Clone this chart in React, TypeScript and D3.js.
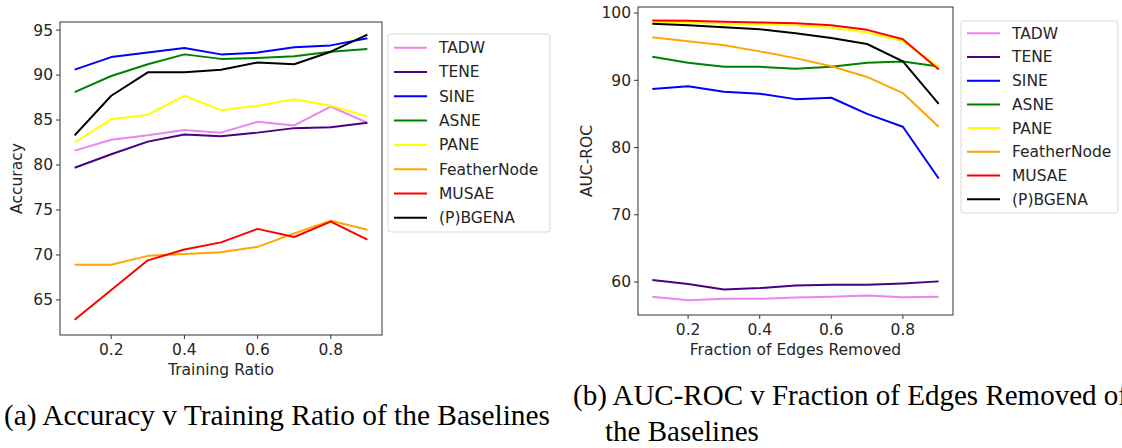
import React from "react";
import * as d3 from "d3";

const methods = ["TADW", "TENE", "SINE", "ASNE", "PANE", "FeatherNode", "MUSAE", "(P)BGENA"];
const colors = ["#ee82ee", "#4b0082", "#0000ff", "#008000", "#ffff00", "#ffa500", "#ff0000", "#000000"];

const trainingRatio = [0.1, 0.2, 0.3, 0.4, 0.5, 0.6, 0.7, 0.8, 0.9];
const accTADW = [81.6, 82.8, 83.3, 83.9, 83.6, 84.8, 84.4, 86.5, 84.7];
const accTENE = [79.7, 81.2, 82.6, 83.4, 83.2, 83.6, 84.1, 84.2, 84.7];
const accSINE = [90.6, 92.0, 92.5, 93.0, 92.3, 92.5, 93.1, 93.3, 94.1];
const accASNE = [88.1, 89.9, 91.2, 92.3, 91.8, 91.9, 92.1, 92.6, 92.9];
const accPANE = [82.5, 85.1, 85.6, 87.7, 86.1, 86.6, 87.3, 86.6, 85.4];
const accFeatherNode = [68.9, 68.9, 69.9, 70.1, 70.3, 70.9, 72.4, 73.8, 72.8];
const accMUSAE = [62.8, 66.1, 69.4, 70.6, 71.4, 72.9, 72.0, 73.7, 71.7];
const accBGENA = [83.3, 87.7, 90.3, 90.3, 90.6, 91.4, 91.2, 92.6, 94.5];

const edgesRemoved = [0.1, 0.2, 0.3, 0.4, 0.5, 0.6, 0.7, 0.8, 0.9];
const aucTADW = [57.8, 57.3, 57.5, 57.5, 57.7, 57.8, 58.0, 57.75, 57.8];
const aucTENE = [60.3, 59.7, 58.9, 59.1, 59.5, 59.6, 59.6, 59.8, 60.1];
const aucSINE = [88.7, 89.1, 88.3, 88.0, 87.2, 87.4, 85.0, 83.1, 75.4];
const aucASNE = [93.5, 92.6, 92.0, 92.0, 91.7, 92.0, 92.6, 92.8, 92.05];
const aucPANE = [98.7, 98.6, 98.4, 98.3, 98.2, 97.8, 97.1, 95.8, 92.0];
const aucFeatherNode = [96.4, 95.8, 95.2, 94.3, 93.3, 92.1, 90.5, 88.1, 83.1];
const aucMUSAE = [98.9, 98.85, 98.7, 98.6, 98.5, 98.2, 97.5, 96.1, 91.6];
const aucBGENA = [98.4, 98.2, 97.9, 97.6, 97.0, 96.3, 95.4, 92.8, 86.5];

const accTicksY = [65, 70, 75, 80, 85, 90, 95];
const aucTicksY = [60, 70, 80, 90, 100];
const ticksX = [0.2, 0.4, 0.6, 0.8];

const accSeries = [accTADW, accTENE, accSINE, accASNE, accPANE, accFeatherNode, accMUSAE, accBGENA];
const aucSeries = [aucTADW, aucTENE, aucSINE, aucASNE, aucPANE, aucFeatherNode, aucMUSAE, aucBGENA];

const FONT = "DejaVu Sans, sans-serif";
const SERIF = "Liberation Serif, Times New Roman, serif";
const TXT = "#262626";
const FS = 15.5;

type PanelProps = {
  left: number; right: number; top: number; bottom: number;
  xs: number[]; series: number[][]; yTicks: number[];
  yDomain: [number, number];
  xLabel: string; yLabel: string; yLabelX: number; xLabelY: number;
  legend: { x: number; y: number; w: number; h: number; first: number; step: number };
};

function Panel(p: PanelProps) {
  const x = d3.scaleLinear().domain([0.06, 0.94]).range([p.left, p.right]);
  const y = d3.scaleLinear().domain(p.yDomain).range([p.bottom, p.top]);
  const line = (vals: number[]) =>
    d3.line<number>().x((_, i) => x(p.xs[i])).y((v) => y(v))(vals) || "";
  const cy = (p.top + p.bottom) / 2;
  const cx = (p.left + p.right) / 2;
  return (
    <g>
      {p.series.map((vals, i) => (
        <path key={methods[i]} d={line(vals)} fill="none" stroke={colors[i]} strokeWidth={2} strokeLinejoin="round" />
      ))}
      <rect x={p.left} y={p.top} width={p.right - p.left} height={p.bottom - p.top} fill="none" stroke="#333" strokeWidth={1} />
      {p.yTicks.map((t) => (
        <g key={t}>
          <line x1={p.left - 4} x2={p.left} y1={y(t)} y2={y(t)} stroke="#333" />
          <text x={p.left - 7} y={y(t)} dy="0.35em" textAnchor="end" fontSize={FS} fontFamily={FONT} fill={TXT}>{t}</text>
        </g>
      ))}
      {ticksX.map((t) => (
        <g key={t}>
          <line x1={x(t)} x2={x(t)} y1={p.bottom} y2={p.bottom + 4} stroke="#333" />
          <text x={x(t)} y={p.bottom + 20} textAnchor="middle" fontSize={FS} fontFamily={FONT} fill={TXT}>{t.toFixed(1)}</text>
        </g>
      ))}
      <text x={cx} y={p.xLabelY} textAnchor="middle" fontSize={FS} fontFamily={FONT} fill={TXT}>{p.xLabel}</text>
      <text transform={`translate(${p.yLabelX},${cy}) rotate(-90)`} textAnchor="middle" fontSize={FS} fontFamily={FONT} fill={TXT}>{p.yLabel}</text>
      <rect x={p.legend.x} y={p.legend.y} width={p.legend.w} height={p.legend.h} rx={3} fill="#fff" stroke="#d9d9d9" />
      {methods.map((m, i) => {
        const ly = p.legend.first + i * p.legend.step;
        return (
          <g key={m}>
            <line x1={p.legend.x + 6} x2={p.legend.x + 39} y1={ly} y2={ly} stroke={colors[i]} strokeWidth={2} />
            <text x={p.legend.x + 51} y={ly} dy="0.35em" fontSize={FS} fontFamily={FONT} fill={TXT}>{m}</text>
          </g>
        );
      })}
    </g>
  );
}

export default function App() {
  return (
    <svg width={1122} height={448} style={{ position: "absolute", left: 0, top: 0, background: "#fff" }}>
      <Panel
        left={60} right={382} top={22} bottom={335}
        xs={trainingRatio} series={accSeries} yTicks={accTicksY} yDomain={[61.1, 95.9]}
        xLabel="Training Ratio" yLabel="Accuracy" yLabelX={22} xLabelY={375}
        legend={{ x: 388, y: 34, w: 162, h: 198, first: 47.7, step: 24.3 }}
      />
      <Panel
        left={638} right={953} top={7} bottom={315}
        xs={edgesRemoved} series={aucSeries} yTicks={aucTicksY} yDomain={[55.1, 100.9]}
        xLabel="Fraction of Edges Removed" yLabel="AUC-ROC" yLabelX={592} xLabelY={355}
        legend={{ x: 961, y: 21, w: 157, h: 192, first: 33.3, step: 23.7 }}
      />
      <text x={4} y={425} fontSize={29} fontFamily={SERIF} fill="#000" textLength={546} lengthAdjust="spacingAndGlyphs">
        (a) Accuracy v Training Ratio of the Baselines
      </text>
      <text x={573} y={405} fontSize={29} fontFamily={SERIF} fill="#000">
        (b) AUC-ROC v Fraction of Edges Removed of
      </text>
      <text x={605} y={441} fontSize={29} fontFamily={SERIF} fill="#000">
        the Baselines
      </text>
    </svg>
  );
}
